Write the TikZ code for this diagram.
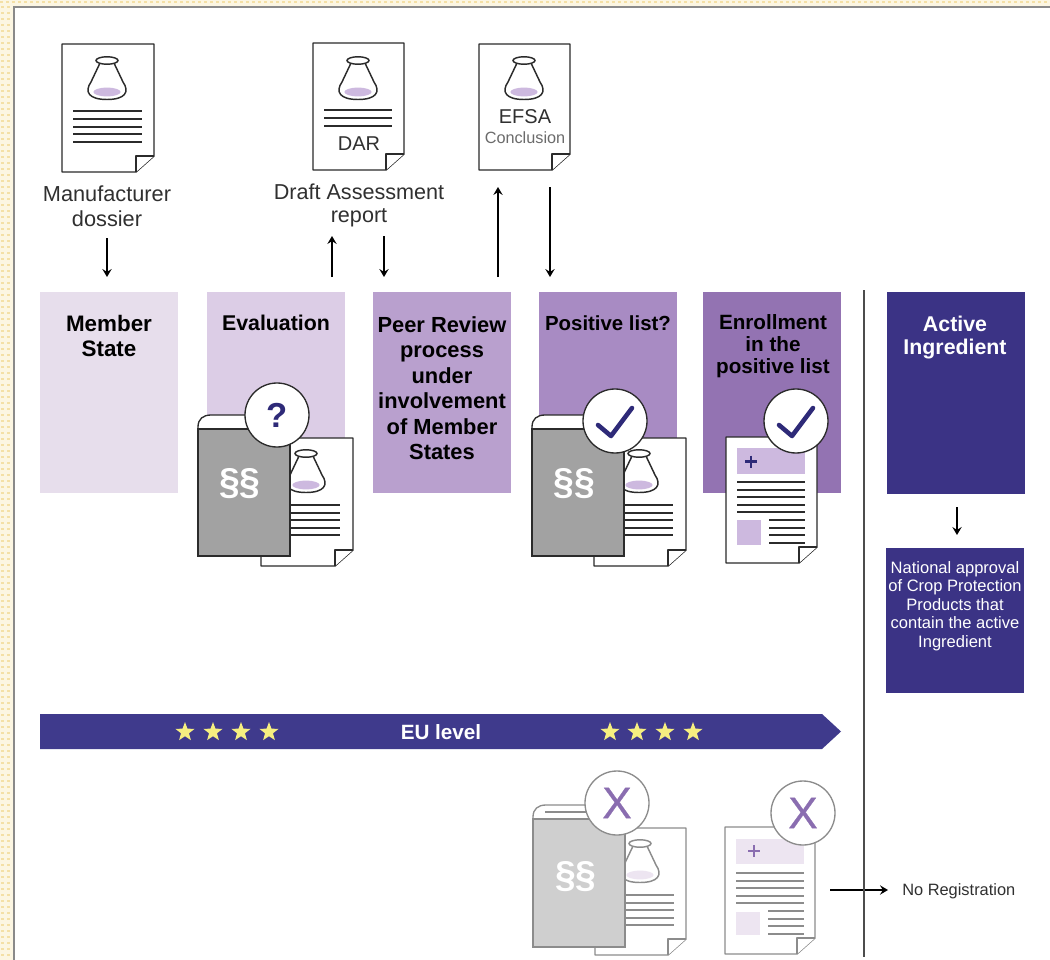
\documentclass[tikz,border=0pt]{standalone}
\usepackage{fontspec}
\setmainfont{Liberation Sans}
\usetikzlibrary{shapes.geometric,arrows.meta}
\definecolor{inkc}{HTML}{2B2B2B}
\definecolor{fadec}{HTML}{8C8C8C}
\definecolor{txtc}{HTML}{303030}
\definecolor{navy}{HTML}{3B3385}
\definecolor{navyb}{HTML}{3F3A8C}
\definecolor{checkc}{HTML}{2E2A78}
\definecolor{pa}{HTML}{E7DEEC}
\definecolor{pb}{HTML}{DCCDE6}
\definecolor{pc}{HTML}{B9A0CE}
\definecolor{pd}{HTML}{A88BC3}
\definecolor{pe}{HTML}{9373B2}
\definecolor{lav}{HTML}{CDB9DF}
\definecolor{lavf}{HTML}{EDE5F1}
\definecolor{greyb}{HTML}{A2A2A2}
\definecolor{greyf}{HTML}{CFCFCF}
\definecolor{xc}{HTML}{8A6DB0}
\definecolor{stare}{HTML}{F6EF80}
\definecolor{tilea}{HTML}{FCF6E2}
\definecolor{tileb}{HTML}{F4E0A6}
\definecolor{framec}{HTML}{8A8A8A}
\tikzset{
  x=0.75pt,y=-0.75pt,
  stagebox/.style={minimum width=103.5pt,minimum height=150.75pt,inner sep=0pt,outer sep=0pt},
  headtxt/.style={font=\fontsize{16.4}{19.1}\selectfont\bfseries,align=center,text=black,inner sep=0pt},
  whitehead/.style={font=\fontsize{16}{17.4}\selectfont\bfseries,align=center,text=white,inner sep=0pt},
  captxt/.style={font=\fontsize{16.3}{18.7}\selectfont,align=center,text=txtc,inner sep=0pt},
  arr/.style={draw=black,line width=0.9pt,-{Stealth[length=6pt,width=7pt,inset=2.2pt]}},
  badge/.style={circle,draw=inkc,fill=white,line width=1pt,minimum size=48pt,inner sep=0pt},
  fadebadge/.style={circle,draw=fadec,fill=white,line width=1pt,minimum size=48pt,inner sep=0pt,font=\fontsize{33}{33}\selectfont\addfontfeature{FakeBold=0.6},text=xc},
  eustar/.style={star,star points=5,star point ratio=2.4,fill=stare,minimum size=15pt,inner sep=0pt},
  checkline/.style={draw=checkc,line width=3.4pt,line cap=round,line join=round}
}
% #1 stroke  #2 x  #3 y  #4 w  #5 h
\newcommand{\docsheet}[5]{%
  \begin{scope}[shift={(#2,#3)}]
    \draw[draw=#1,fill=white,line width=1.1pt,line join=round] (0,0) -- (#4,0) -- (#4,#5-16) -- (#4-18,#5) -- (0,#5) -- cycle;
    \draw[draw=#1,fill=white,line width=1pt,line join=round] (#4-18,#5) -- (#4-18,#5-16) -- (#4,#5-16);
  \end{scope}}
% #1 stroke  #2 fill  #3 x centre  #4 y rim
\newcommand{\flaskicon}[4]{%
  \begin{scope}[shift={(#3,#4)}]
    \draw[draw=#1,fill=white,line width=1.1pt] (-7,3) -- (-16,22) .. controls (-23,32) and (-18,39.5) .. (0,39.5) .. controls (18,39.5) and (23,32) .. (16,22) -- (7,3);
    \draw[draw=#1,fill=white,line width=1.1pt] (0,0.5) ellipse [x radius=8.25pt,y radius=2.8pt];
    \fill[#2] (0,32) ellipse [x radius=10.2pt,y radius=3.3pt];
  \end{scope}}
% #1 stroke  #2 x0  #3 x1  #4 list of y
\newcommand{\rules}[4]{%
  \foreach \yy in {#4} {\draw[draw=#1,line width=0.9pt] (#2,\yy) -- (#3,\yy);}}
% #1 stroke #2 fill #3 x #4 y
\newcommand{\binderfile}[5]{%
  \begin{scope}[shift={(#3,#4)}]
    \draw[draw=#1,fill=white,line width=1pt] (0,14) -- (0,12) .. controls (0,4) and (5,0) .. (13,0) -- (80,0) -- (92,14) -- cycle;
    \fill[#2] (0,14) rectangle (92,#5);
    \draw[draw=#1,line width=1pt] (0,14) rectangle (92,#5);
  \end{scope}}
\begin{document}
\begin{tikzpicture}
\useasboundingbox (0,0) rectangle (1050,960);
% page frame
\fill[tilea] (0,0) rectangle (1050,960);
\foreach \i in {0,...,174} {\fill[tileb] (\i*6,1) rectangle ++(3,2);}
\foreach \j in {1,...,160} {
  \fill[tileb] (1,\j*6) rectangle ++(3,2);
  \fill[tileb] (7,\j*6) rectangle ++(3,2);
}
\fill[white] (14,7) rectangle (1050,960);
\draw[draw=framec,line width=1.4pt] (14,960) -- (14,7) -- (1050,7);

% stage boxes
\node[stagebox,fill=pa,anchor=north west] (box1) at (40,292) {};
\node[stagebox,fill=pb,anchor=north west] (box2) at (207,292) {};
\node[stagebox,fill=pc,anchor=north west] (box3) at (373,292) {};
\node[stagebox,fill=pd,anchor=north west] (box4) at (539,292) {};
\node[stagebox,fill=pe,anchor=north west] (box5) at (703,292) {};
\node[stagebox,fill=navy,anchor=north west,minimum height=151.5pt] (box6) at (887,292) {};
\node[stagebox,fill=navy,anchor=north west,minimum height=108.75pt] (box7) at (886,548) {};

\node[headtxt,font=\fontsize{16.8}{19.1}\selectfont\bfseries] (t1) at (109,336) {Member\\State};
\node[headtxt,font=\fontsize{16}{19.1}\selectfont\bfseries] (t2) at (276,323) {Evaluation};
\node[headtxt] (t3) at (442,388) {Peer Review\\process\\under\\involvement\\of Member\\States};
\node[headtxt,font=\fontsize{15.3}{19.1}\selectfont\bfseries] (t4) at (608,323) {Positive list?};
\node[headtxt,font=\fontsize{15.5}{16.6}\selectfont\bfseries] (t5) at (773,346.5) {Enrollment\\in the\\positive list};
\node[whitehead] (t6) at (955,337.5) {Active\\Ingredient};
\node[font=\fontsize{12.4}{13.9}\selectfont,align=center,text=white,inner sep=0pt] (t7) at (955,606) {National approval\\of Crop Protection\\Products that\\contain the active\\Ingredient};

% top documents
\docsheet{inkc}{62}{44}{92}{128}
\flaskicon{inkc}{lav}{107}{60}
\rules{inkc}{73}{142}{111,119,127,134,142}
\docsheet{inkc}{313}{43}{91}{127}
\flaskicon{inkc}{lav}{358}{60}
\rules{inkc}{324}{392}{110,118,126}
\node[font=\fontsize{15}{15}\selectfont,text=txtc,inner sep=0pt] (dar) at (359,144) {DAR};
\docsheet{inkc}{479}{44}{91}{126}
\flaskicon{inkc}{lav}{524}{60}
\node[font=\fontsize{15}{15}\selectfont,text=txtc,inner sep=0pt] (efsa) at (525,117) {EFSA};
\node[font=\fontsize{12.2}{12}\selectfont,text=black!58,inner sep=0pt] (concl) at (525,138) {Conclusion};

\node[captxt] (cap1) at (107,206) {Manufacturer\\dossier};
\node[captxt,font=\fontsize{16.2}{17.2}\selectfont] (cap2) at (359,205.5) {Draft Assessment\\report};

% arrows
\coordinate (a1) at (107,238);
\coordinate (a2) at (332,277);
\coordinate (a2e) at (332,236);
\coordinate (a3) at (384,236);
\coordinate (a4) at (498,277);
\coordinate (a4e) at (498,187);
\coordinate (a5) at (550,187);
\coordinate (a6) at (957,507);
\coordinate (a7) at (830,890);
\draw[arr,shorten >=11.25pt] (a1) -- (a1 |- box1.north);
\draw[arr] (a2) -- (a2e);
\draw[arr,shorten >=11.25pt] (a3) -- (a3 |- box3.north);
\draw[arr] (a4) -- (a4e);
\draw[arr,shorten >=11.25pt] (a5) -- (a5 |- box4.north);
\draw[arr,shorten >=9.75pt] (a6) -- (a6 |- box7.north);
\node[font=\fontsize{12.3}{14}\selectfont,text=txtc,inner sep=0pt,anchor=west] (noreg) at (902,891) {No Registration};
\draw[arr,shorten >=10.5pt] (a7) -- (a7 -| noreg.west);

% divider
\coordinate (divt) at (864,290);
\coordinate (divb) at (864,957);
\draw[draw=black!70,line width=1.2pt] (divt) -- (divb);

% Evaluation group
\docsheet{inkc}{261}{438}{92}{128}
\flaskicon{inkc}{lav}{306}{453}
\rules{inkc}{290}{340}{505,513,520,528,535}
\binderfile{inkc}{greyb}{198}{415}{141}
\node[font=\fontsize{28}{28}\selectfont\bfseries,text=white,inner sep=0pt] (par1) at (240,484) {§§};
\node[badge,font=\fontsize{26}{26}\selectfont\bfseries,text=checkc] (qbadge) at (277,415) {?};

% Positive list group
\docsheet{inkc}{594}{438}{92}{128}
\flaskicon{inkc}{lav}{639}{453}
\rules{inkc}{623}{673}{505,513,520,528,535}
\binderfile{inkc}{greyb}{532}{415}{141}
\node[font=\fontsize{28}{28}\selectfont\bfseries,text=white,inner sep=0pt] (par2) at (574,484) {§§};
\node[badge] (ok1) at (615,421) {};
\draw[checkline] (598,425) -- (611,436) -- (632,408);

% Enrollment group
\docsheet{inkc}{726}{437}{91}{126}
\fill[lav] (737,448) rectangle (805,474);
\draw[draw=checkc,line width=2pt] (745,461.5) -- (757,461.5) (751,455.5) -- (751,467.5);
\rules{inkc}{737}{805}{482,490,497,505,512}
\fill[lav] (737,520) rectangle (761,545);
\rules{inkc}{769}{805}{520,528,535,543}
\node[badge] (ok2) at (796,421) {};
\draw[checkline] (779,425) -- (792,436) -- (813,408);

% EU banner
\fill[navyb] (40,714) -- (822,714) -- (841,731.5) -- (822,749) -- (40,749) -- cycle;
\foreach \n/\sx in {a/185,b/213,c/241,d/269,e/610,f/637,g/665,h/693} {\node[eustar] (star\n) at (\sx,732) {};}
\node[font=\fontsize{15.5}{16}\selectfont\bfseries,text=white,inner sep=0pt] (eu) at (441,732) {EU level};

% Rejected group
\docsheet{fadec}{595}{828}{91}{127}
\flaskicon{fadec}{lavf}{640}{843}
\rules{fadec}{624}{674}{895,903,910,918,925}
\binderfile{fadec}{greyf}{533}{805}{142}
\draw[draw=fadec,line width=0.8pt] (545,812) -- (590,812);
\node[font=\fontsize{28}{28}\selectfont\bfseries,text=white,inner sep=0pt] (par3) at (576,877) {§§};
\node[fadebadge] (x1) at (617,803) {X};

\docsheet{fadec}{725}{827}{90}{127}
\fill[lavf] (736,839) rectangle (804,864);
\draw[draw=xc,line width=2pt] (748,851) -- (760,851) (754,845) -- (754,857);
\rules{fadec}{736}{804}{873,881,888,896,903}
\fill[lavf] (736,912) rectangle (760,935);
\rules{fadec}{768}{804}{911,919,926,934}
\node[fadebadge] (x2) at (803,813) {X};
\end{tikzpicture}
\end{document}
